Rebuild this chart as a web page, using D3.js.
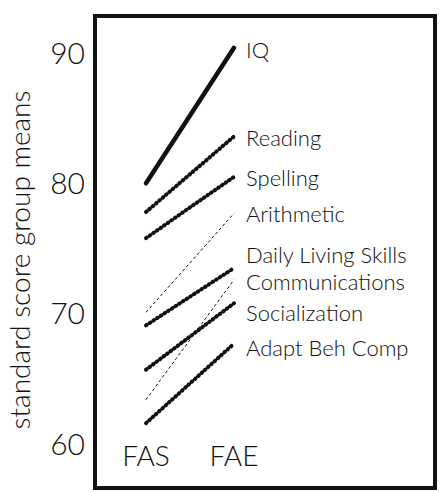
<!DOCTYPE html>
<html>
<head>
<meta charset="utf-8">
<script src="https://cdn.jsdelivr.net/npm/d3@7"></script>
<style>
  body { margin: 0; background: #fff; }
  text { font-family: Lato, "Noto Sans", sans-serif; font-weight: 300; fill: #111; }
</style>
</head>
<body>
<svg width="443" height="493"></svg>
<script>
var groups = ["FAS", "FAE"];
var measures = ["IQ", "Reading", "Spelling", "Arithmetic", "Daily Living Skills",
  "Communications", "Socialization", "Adapt Beh Comp"];
var fasMeans = [80.0, 77.8, 75.8, 70.1, 69.1, 63.4, 65.7, 61.6];
var faeMeans = [90.4, 83.6, 80.5, 77.7, 73.5, 72.6, 70.8, 67.7];
var lineKind = ["solid", "beads", "beads", "dash", "beads", "dash", "beads", "beads"];
var yTicks = [60, 70, 80, 90];
var yTitle = "standard score group means";

var svg = d3.select("svg");

var x = d3.scalePoint().domain(groups).range([146, 234]);
var y = d3.scaleLinear().domain([60, 90]).range([444, 53]);

// frame
svg.append("rect")
  .attr("x", 95).attr("y", 16)
  .attr("width", 340).attr("height", 472)
  .attr("fill", "none")
  .attr("stroke", "#111")
  .attr("stroke-width", 4);

// y tick labels
svg.selectAll(".ytick")
  .data(yTicks)
  .enter().append("text")
  .attr("class", "ytick")
  .attr("x", 85)
  .attr("y", function(d) { return y(d); })
  .attr("dy", "0.36em")
  .attr("text-anchor", "end")
  .style("font-size", "30px")
  .text(function(d) { return d; });

svg.append("text")
  .attr("transform", "translate(30,260) rotate(-90)")
  .attr("text-anchor", "middle")
  .style("font-size", "28px")
  .text(yTitle);

// group labels along the bottom
svg.selectAll(".xtick")
  .data(groups)
  .enter().append("text")
  .attr("class", "xtick")
  .attr("x", function(d) { return x(d); })
  .attr("y", 466)
  .attr("text-anchor", "middle")
  .style("font-size", "28px")
  .text(function(d) { return d; });

var rows = measures.map(function(m, i) {
  return {name: m, a: fasMeans[i], b: faeMeans[i], kind: lineKind[i]};
});

var line = d3.line()
  .x(function(d) { return x(d[0]); })
  .y(function(d) { return y(d[1]); });

var styles = {
  solid: {w: 4.5, dash: null},
  beads: {w: 4, dash: "0.8 3.6"},
  dash: {w: 1, dash: "3 2.5"}
};

svg.selectAll(".measure")
  .data(rows)
  .enter().append("path")
  .attr("class", "measure")
  .attr("d", function(d) { return line([["FAS", d.a], ["FAE", d.b]]); })
  .attr("fill", "none")
  .attr("stroke", "#111")
  .attr("stroke-linecap", function(d) { return d.kind == "dash" ? "butt" : "round"; })
  .attr("stroke-width", function(d) { return styles[d.kind].w; })
  .attr("stroke-dasharray", function(d) { return styles[d.kind].dash; });

// labels sit at the FAE end, a few nudged apart so they don't collide
var nudge = {"IQ": 2, "Reading": 2, "Spelling": 1, "Arithmetic": 1,
  "Daily Living Skills": -13, "Communications": 2, "Socialization": 10, "Adapt Beh Comp": 4};

svg.selectAll(".mlabel")
  .data(rows)
  .enter().append("text")
  .attr("class", "mlabel")
  .attr("x", x("FAE") + 12)
  .attr("y", function(d) { return y(d.b) + nudge[d.name]; })
  .attr("dy", "0.36em")
  .style("font-size", "22px")
  .text(function(d) { return d.name; });
</script>
</body>
</html>
